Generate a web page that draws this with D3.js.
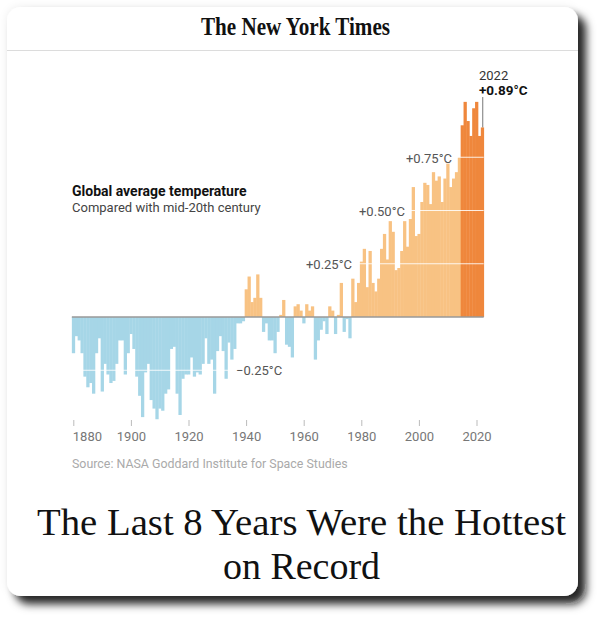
<!DOCTYPE html>
<html>
<head>
<meta charset="utf-8">
<script src="https://cdn.jsdelivr.net/npm/d3@7"></script>
<style>
  html, body { margin: 0; padding: 0; background: #fff; }
  svg { display: block; }
</style>
</head>
<body>
<script>
// ---- DATA ----
const startYear = 1880;
const endYear = 2022;
const anomalies = [
  -0.17,-0.09,-0.11,-0.17,-0.28,-0.33,-0.31,-0.36,-0.17,-0.10,
  -0.35,-0.22,-0.27,-0.31,-0.30,-0.22,-0.11,-0.11,-0.27,-0.17,
  -0.08,-0.15,-0.28,-0.37,-0.47,-0.26,-0.22,-0.39,-0.43,-0.48,
  -0.43,-0.44,-0.36,-0.34,-0.15,-0.14,-0.36,-0.46,-0.29,-0.27,
  -0.27,-0.19,-0.28,-0.26,-0.27,-0.22,-0.10,-0.22,-0.20,-0.36,
  -0.16,-0.09,-0.16,-0.29,-0.12,-0.20,-0.15,-0.03,-0.03,-0.02,
   0.13, 0.19, 0.07, 0.09, 0.20, 0.09,-0.07,-0.03,-0.11,-0.11,
  -0.17,-0.07, 0.01, 0.08,-0.13,-0.14,-0.19, 0.05, 0.06, 0.03,
  -0.03, 0.06, 0.03, 0.05,-0.20,-0.11,-0.06,-0.02,-0.08, 0.05,
   0.03,-0.08, 0.01, 0.16,-0.07,-0.01,-0.10, 0.18, 0.07, 0.16,
   0.26, 0.32, 0.14, 0.31, 0.16, 0.12, 0.18, 0.32, 0.39, 0.27,
   0.45, 0.40, 0.22, 0.23, 0.31, 0.45, 0.33, 0.46, 0.61, 0.38,
   0.39, 0.54, 0.63, 0.62, 0.53, 0.68, 0.64, 0.66, 0.54, 0.65,
   0.72, 0.61, 0.65, 0.68, 0.75, 0.90, 1.01, 0.92, 0.85, 0.98,
   1.01, 0.85, 0.89
];
const years = d3.range(startYear, endYear + 1);
const recentFrom = 2015;
const gridValues = [-0.25, 0.25, 0.50, 0.75];
const gridLabels = ["\u22120.25°C", "+0.25°C", "+0.50°C", "+0.75°C"];
const xTicks = [1880, 1900, 1920, 1940, 1960, 1980, 2000, 2020];
const data = years.map((y, i) => ({ year: y, value: anomalies[i] }));

// ---- LAYOUT ----
const W = 601, H = 619;
const svg = d3.select("body").append("svg").attr("width", W).attr("height", H);

const defs = svg.append("defs");
const f = defs.append("filter").attr("id", "shadow")
  .attr("x", "-10%").attr("y", "-10%").attr("width", "125%").attr("height", "125%");
f.append("feDropShadow").attr("dx", 0).attr("dy", 0).attr("stdDeviation", 4)
  .attr("flood-color", "#000").attr("flood-opacity", 0.08);
f.append("feDropShadow").attr("dx", 8).attr("dy", 8).attr("stdDeviation", 4)
  .attr("flood-color", "#111").attr("flood-opacity", 0.85);

svg.append("rect").attr("x", 7).attr("y", 7).attr("width", 571).attr("height", 589)
  .attr("rx", 14).attr("fill", "#fff").attr("filter", "url(#shadow)");

// header
svg.append("text").attr("x", 295.5).attr("y", 35).attr("text-anchor", "middle")
  .attr("font-family", "'Liberation Serif', 'DejaVu Serif', serif")
  .attr("font-weight", "bold").attr("font-size", 25)
  .attr("textLength", 189).attr("lengthAdjust", "spacingAndGlyphs")
  .attr("fill", "#111").text("The New York Times");
svg.append("line").attr("x1", 7).attr("x2", 578).attr("y1", 50.5).attr("y2", 50.5)
  .attr("stroke", "#dcdcdc").attr("stroke-width", 1);

// scales
const x0 = 73.3, pxPerYear = 2.88;
const x = d3.scaleLinear().domain([startYear, endYear]).range([x0, x0 + (endYear - startYear) * pxPerYear]);
const y = d3.scaleLinear().domain([0, 1]).range([317, 317 - 213]);
const bw = pxPerYear;

const sans = "Roboto, 'Liberation Sans', Arial, sans-serif";

// bars
const colorFor = d => d.value < 0 ? "#a6d6e7" : (d.year >= recentFrom ? "#ef873c" : "#f8c283");
svg.append("g").selectAll("rect").data(data).join("rect")
  .attr("x", d => x(d.year) - bw / 2)
  .attr("width", bw + 0.4)
  .attr("y", d => Math.min(y(d.value), y(0)))
  .attr("height", d => Math.abs(y(d.value) - y(0)))
  .attr("fill", colorFor);

// gridlines on top of bars
svg.append("g").selectAll("line").data(gridValues).join("line")
  .attr("x1", x(startYear) - bw / 2).attr("x2", x(endYear) + bw / 2)
  .attr("y1", d => y(d)).attr("y2", d => y(d))
  .attr("stroke", "#fff").attr("stroke-opacity", 0.85).attr("stroke-width", 1);

// baseline
svg.append("line").attr("x1", x(startYear) - bw / 2).attr("x2", x(endYear) + bw / 2)
  .attr("y1", y(0)).attr("y2", y(0)).attr("stroke", "#999").attr("stroke-width", 1.5);

// grid labels
const labelPos = [
  { x: 236, anchor: "start", dy: 4.5 },
  { x: 352, anchor: "end", dy: 5.5 },
  { x: 405, anchor: "end", dy: 5.5 },
  { x: 452, anchor: "end", dy: 5.5 }
];
svg.append("g").selectAll("text").data(gridValues).join("text")
  .attr("x", (d, i) => labelPos[i].x)
  .attr("y", (d, i) => y(d) + labelPos[i].dy)
  .attr("text-anchor", (d, i) => labelPos[i].anchor)
  .attr("font-family", sans).attr("font-size", 13).attr("fill", "#555")
  .text((d, i) => gridLabels[i]);

// x axis
const axisG = svg.append("g").attr("transform", "translate(0,420)");
const axis = d3.axisBottom(x).tickValues(xTicks).tickFormat(d3.format("d")).tickSize(6).tickPadding(6);
axisG.call(axis);
axisG.select(".domain").remove();
axisG.selectAll(".tick line").attr("stroke", "#bbb");
axisG.selectAll(".tick text").attr("font-family", sans).attr("font-size", 13).attr("fill", "#777")
  .attr("text-anchor", d => d === startYear ? "start" : "middle")
  .attr("dx", d => d === startYear ? -1 : 0);

// titles
svg.append("text").attr("x", 72).attr("y", 196).attr("font-family", sans)
  .attr("font-weight", "bold").attr("font-size", 14).attr("fill", "#111")
  .text("Global average temperature");
svg.append("text").attr("x", 72).attr("y", 212).attr("font-family", sans)
  .attr("font-size", 13).attr("fill", "#444")
  .text("Compared with mid-20th century");

// 2022 annotation
const last = data[data.length - 1];
svg.append("line").attr("x1", x(last.year) + 0.5).attr("x2", x(last.year) + 0.5)
  .attr("y1", 97).attr("y2", y(last.value))
  .attr("stroke", "#777").attr("stroke-width", 1);
svg.append("text").attr("x", 479).attr("y", 80).attr("font-family", sans)
  .attr("font-size", 13).attr("fill", "#333").text(String(last.year));
svg.append("text").attr("x", 479).attr("y", 95).attr("font-family", sans)
  .attr("font-weight", "bold").attr("font-size", 13.5).attr("fill", "#111")
  .text("+" + last.value.toFixed(2) + "°C");

// source
svg.append("text").attr("x", 72).attr("y", 468).attr("font-family", sans)
  .attr("font-size", 12.4).attr("fill", "#aaa")
  .text("Source: NASA Goddard Institute for Space Studies");

// headline
const serif = "'Liberation Serif', 'DejaVu Serif', serif";
svg.append("text").attr("x", 301.5).attr("y", 535).attr("text-anchor", "middle")
  .attr("font-family", serif).attr("font-size", 38).attr("fill", "#111")
  .attr("textLength", 529).attr("lengthAdjust", "spacingAndGlyphs")
  .text("The Last 8 Years Were the Hottest");
svg.append("text").attr("x", 301.5).attr("y", 579).attr("text-anchor", "middle")
  .attr("font-family", serif).attr("font-size", 38).attr("fill", "#111")
  .text("on Record");
</script>
</body>
</html>
